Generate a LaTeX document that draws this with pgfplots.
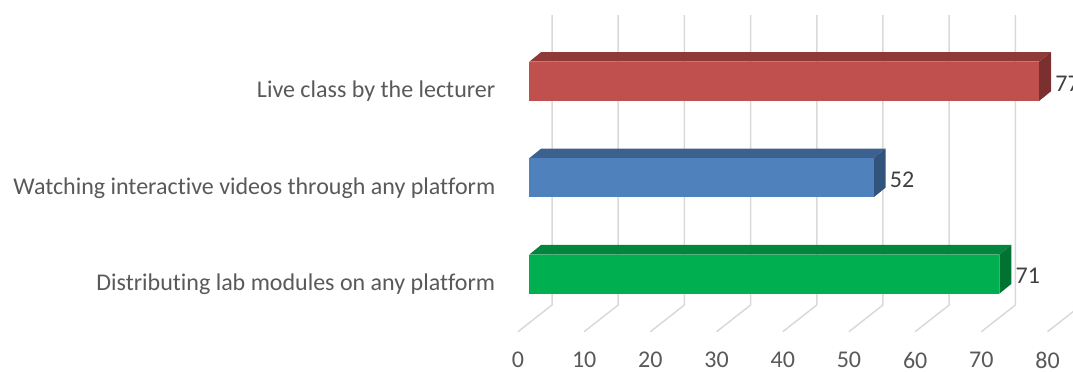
\documentclass[border=0pt]{standalone}
\usepackage{pgfplots}
\pgfplotsset{compat=1.18}
\usepackage{fontspec}
\setmainfont{Carlito}[Ligatures=NoCommon]
\definecolor{redF}{HTML}{C0504D}
\definecolor{redT}{HTML}{8F3A38}
\definecolor{redS}{HTML}{7B302F}
\definecolor{bluF}{HTML}{4F81BD}
\definecolor{bluT}{HTML}{3C618F}
\definecolor{bluS}{HTML}{31537C}
\definecolor{grnF}{HTML}{00B050}
\definecolor{grnT}{HTML}{00863D}
\definecolor{grnS}{HTML}{007232}
\definecolor{gridc}{HTML}{D9D9D9}
\definecolor{txt}{HTML}{595959}
\definecolor{val}{HTML}{404040}
\tikzset{lbl/.style={font=\fontsize{12}{14}\selectfont, text=txt, inner sep=0pt}}
\pgfplotsset{frontbar/.style={xbar, bar width=39.2, bar shift=0pt, draw=none,
  point meta=x, nodes near coords,
  nodes near coords style={anchor=west, inner sep=0pt, xshift=8pt, yshift=-1pt,
    font=\fontsize{12}{14}\selectfont, text=val}}}
\begin{document}
\begin{tikzpicture}
\useasboundingbox (0,0) rectangle (536.5pt,185.5pt);
\begin{axis}[
  at={(0,0)}, anchor=south west,
  scale only axis, width=536.5pt, height=185.5pt,
  xmin=-79.955, xmax=82.13, ymin=0, ymax=371,
  hide axis, clip=true,
  /pgf/number format/assume math mode=true,
]
% gridlines (back wall + floor)
\addplot[gridc, line width=0.75pt] coordinates {(3.43,356) (3.43,66) (-1.71,39.3)};
\addplot[gridc, line width=0.75pt] coordinates {(13.43,356) (13.43,66) (8.29,39.3)};
\addplot[gridc, line width=0.75pt] coordinates {(23.43,356) (23.43,66) (18.29,39.3)};
\addplot[gridc, line width=0.75pt] coordinates {(33.43,356) (33.43,66) (28.29,39.3)};
\addplot[gridc, line width=0.75pt] coordinates {(43.43,356) (43.43,66) (38.29,39.3)};
\addplot[gridc, line width=0.75pt] coordinates {(53.43,356) (53.43,66) (48.29,39.3)};
\addplot[gridc, line width=0.75pt] coordinates {(63.43,356) (63.43,66) (58.29,39.3)};
\addplot[gridc, line width=0.75pt] coordinates {(73.43,356) (73.43,66) (68.29,39.3)};
\addplot[gridc, line width=0.75pt] coordinates {(83.43,356) (83.43,66) (78.29,39.3)};
% top faces
\addplot[fill=redT, draw=none] coordinates {(0,309.3) (77,309.3) (78.81,319) (1.81,319) (0,309.3)};
\addplot[fill=bluT, draw=none] coordinates {(0,212.8) (52,212.8) (53.81,222.5) (1.81,222.5) (0,212.8)};
\addplot[fill=grnT, draw=none] coordinates {(0,116.5) (71,116.5) (72.81,126.2) (1.81,126.2) (0,116.5)};
% side faces
\addplot[fill=redS, draw=none] coordinates {(77,270) (77,309.3) (78.81,319) (78.81,279.7) (77,270)};
\addplot[fill=bluS, draw=none] coordinates {(52,173.6) (52,212.8) (53.81,222.5) (53.81,183.3) (52,173.6)};
\addplot[fill=grnS, draw=none] coordinates {(71,77.3) (71,116.5) (72.81,126.2) (72.81,87) (71,77.3)};
% front faces with value labels
\addplot[frontbar, fill=redF] coordinates {(77,289.65)};
\addplot[frontbar, fill=bluF] coordinates {(52,193.2)};
\addplot[frontbar, fill=grnF] coordinates {(71,96.9)};
% category labels
\node[lbl, anchor=base east] at (axis cs:-5.08,273.3) {Live class by the lecturer};
\node[lbl, anchor=base east] at (axis cs:-5.08,176.7) {Watching interactive videos through any platform};
\node[lbl, anchor=base east] at (axis cs:-5.08,80.3) {Distributing lab modules on any platform};
% tick labels
\node[lbl] at (axis cs:-1.71,11) {0};
\node[lbl] at (axis cs:8.29,11) {10};
\node[lbl] at (axis cs:18.29,11) {20};
\node[lbl] at (axis cs:28.29,11) {30};
\node[lbl] at (axis cs:38.29,11) {40};
\node[lbl] at (axis cs:48.29,11) {50};
\node[lbl] at (axis cs:58.29,11) {60};
\node[lbl] at (axis cs:68.29,11) {70};
\node[lbl] at (axis cs:78.29,11) {80};
\end{axis}
\end{tikzpicture}
\end{document}
